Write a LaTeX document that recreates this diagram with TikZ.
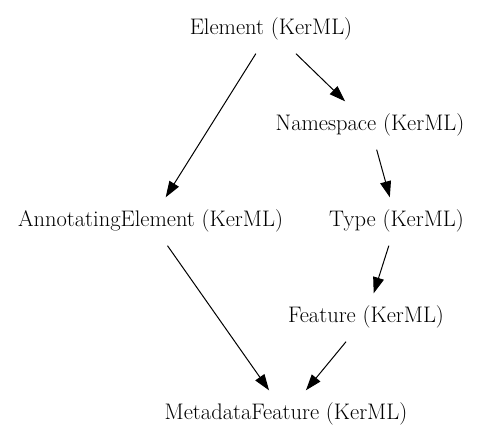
\documentclass[tikz,border=0pt]{standalone}
\usetikzlibrary{arrows.meta}
\begin{document}
\begin{tikzpicture}[x=1pt, y=1pt,
        cls/.style={inner xsep=2pt, inner ysep=13.5pt, text height=16pt, text depth=5pt,
                    font=\fontsize{22.5}{27}\selectfont},
        gen/.style={line width=1pt, -{Triangle[length=16pt, width=11pt]}}
    ]
    \useasboundingbox (0,0) rectangle (484,443);

    % Classi
    \node[cls] (element)    at (271, 413.5) {Element (KerML)};
    \node[cls] (namespace)  at (370, 317.5) {Namespace (KerML)};
    \node[cls] (annotating) at (150.5, 221.5) {AnnotatingElement (KerML)};
    \node[cls] (type)       at (396.5, 221.5) {Type (KerML)};
    \node[cls] (feature)    at (366, 125.5) {Feature (KerML)};
    \node[cls] (metadata)   at (286, 28.5) {MetadataFeature (KerML)};

    % Frecce
    \draw[gen] (element) -- (annotating);
    \draw[gen] (element) -- (namespace);
    \draw[gen] (namespace) -- (type);
    \draw[gen] (type) -- (feature);
    \draw[gen] (annotating) -- (metadata);
    \draw[gen] (feature) -- (metadata);
\end{tikzpicture}
\end{document}
